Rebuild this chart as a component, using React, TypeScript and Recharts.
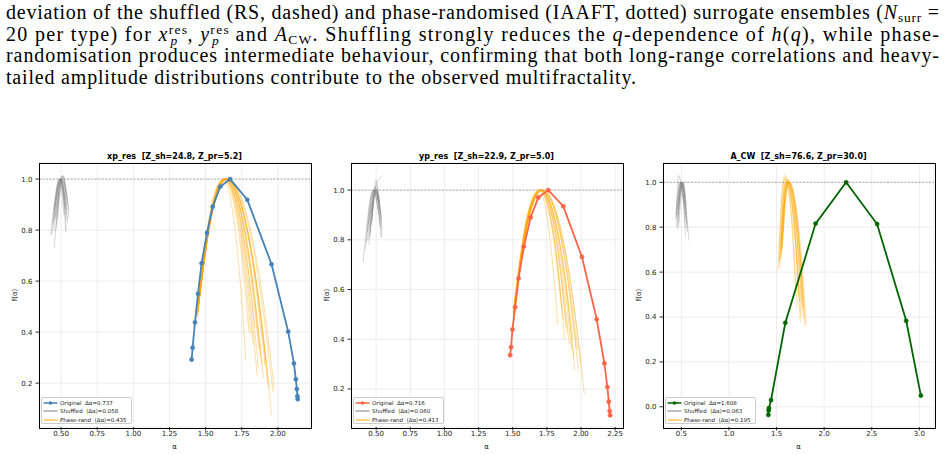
import React from "react";
import { LineChart, Line, XAxis, YAxis, CartesianGrid, ReferenceLine } from "recharts";

type Pt = [number, number];

// ---------- xp_res ----------
const xpOriginal: Pt[] = [
  [1.403, 0.292], [1.41, 0.339], [1.426, 0.438], [1.447, 0.55], [1.472, 0.67], [1.509, 0.789],
  [1.549, 0.892], [1.601, 0.97], [1.669, 1.0], [1.788, 0.919], [1.956, 0.666], [2.071, 0.402],
  [2.111, 0.277], [2.124, 0.215], [2.131, 0.177], [2.135, 0.149], [2.137, 0.137],
];
const xpShuffled: Pt[][] = [
  [[0.428, 0.78], [0.49, 1.0], [0.53, 0.86]],
  [[0.437, 0.78], [0.495, 1.0], [0.533, 0.79]],
  [[0.453, 0.73], [0.5, 1.0], [0.54, 0.84]],
  [[0.445, 0.83], [0.505, 1.01], [0.556, 0.85]],
  [[0.46, 0.85], [0.51, 1.01], [0.551, 0.88]],
  [[0.47, 0.86], [0.5, 1.0], [0.53, 0.9]],
  [[0.45, 0.8], [0.485, 1.0], [0.52, 0.86]],
  [[0.465, 0.8], [0.515, 1.01], [0.545, 0.83]],
  [[0.44, 0.82], [0.492, 1.0], [0.525, 0.89]],
  [[0.475, 0.84], [0.508, 1.0], [0.538, 0.87]],
  [[0.455, 0.88], [0.498, 1.0], [0.528, 0.92]],
  [[0.468, 0.82], [0.503, 1.0], [0.535, 0.8]],
  [[0.478, 0.9], [0.512, 1.015], [0.548, 0.9]],
  [[0.448, 0.86], [0.488, 1.0], [0.522, 0.93]],
  [[0.458, 0.84], [0.496, 1.0], [0.532, 0.88]],
  [[0.462, 0.9], [0.505, 1.0], [0.541, 0.92]],
];
const xpPhase: Pt[][] = [
  [[1.44, 0.48], [1.53, 0.87], [1.62, 1.0], [1.683, 0.886], [1.731, 0.652], [1.778, 0.29]],
  [[1.445, 0.5], [1.535, 0.875], [1.625, 1.0], [1.695, 0.904], [1.748, 0.706], [1.8, 0.4]],
  [[1.445, 0.47], [1.538, 0.868], [1.63, 1.0], [1.703, 0.902], [1.758, 0.701], [1.813, 0.39]],
  [[1.45, 0.52], [1.54, 0.88], [1.63, 1.0], [1.71, 0.896], [1.77, 0.682], [1.83, 0.35]],
  [[1.44, 0.45], [1.538, 0.862], [1.635, 1.0], [1.723, 0.877], [1.79, 0.623], [1.856, 0.23]],
  [[1.445, 0.48], [1.54, 0.87], [1.635, 1.0], [1.727, 0.882], [1.796, 0.637], [1.865, 0.26]],
  [[1.45, 0.5], [1.545, 0.875], [1.64, 1.0], [1.736, 0.888], [1.808, 0.657], [1.88, 0.3]],
  [[1.44, 0.46], [1.54, 0.865], [1.64, 1.0], [1.74, 0.883], [1.815, 0.642], [1.89, 0.27]],
  [[1.445, 0.49], [1.543, 0.873], [1.64, 1.0], [1.744, 0.875], [1.822, 0.618], [1.9, 0.22]],
  [[1.45, 0.51], [1.548, 0.878], [1.645, 1.0], [1.751, 0.883], [1.831, 0.642], [1.91, 0.27]],
  [[1.445, 0.47], [1.545, 0.868], [1.645, 1.0], [1.755, 0.885], [1.838, 0.647], [1.92, 0.28]],
  [[1.44, 0.46], [1.543, 0.865], [1.645, 1.0], [1.759, 0.872], [1.845, 0.608], [1.93, 0.2]],
  [[1.445, 0.48], [1.543, 0.87], [1.64, 1.0], [1.76, 0.869], [1.85, 0.598], [1.94, 0.18]],
  [[1.45, 0.5], [1.548, 0.875], [1.645, 1.0], [1.769, 0.852], [1.863, 0.547], [1.956, 0.075]],
  [[1.445, 0.49], [1.548, 0.873], [1.65, 1.0], [1.776, 0.866], [1.871, 0.591], [1.966, 0.165]],
  [[1.445, 0.48], [1.548, 0.87], [1.65, 1.0], [1.78, 0.869], [1.878, 0.598], [1.975, 0.18]],
  [[1.45, 0.5], [1.543, 0.875], [1.635, 1.0], [1.729, 0.893], [1.8, 0.672], [1.87, 0.33]],
  [[1.445, 0.49], [1.538, 0.873], [1.63, 1.0], [1.714, 0.907], [1.777, 0.716], [1.84, 0.42]],
];
const xpTicksX = [0.5, 0.75, 1.0, 1.25, 1.5, 1.75, 2.0];
const xpTicksY = [0.2, 0.4, 0.6, 0.8, 1.0];

// ---------- yp_res ----------
const ypOriginal: Pt[] = [
  [1.481, 0.336], [1.488, 0.368], [1.498, 0.439], [1.518, 0.529], [1.543, 0.645], [1.582, 0.773],
  [1.631, 0.89], [1.687, 0.97], [1.76, 1.0], [1.87, 0.935], [2.007, 0.731], [2.115, 0.48],
  [2.171, 0.303], [2.193, 0.208], [2.203, 0.149], [2.21, 0.111], [2.213, 0.094],
];
const ypShuffled: Pt[][] = [
  [[0.405, 0.71], [0.48, 1.0], [0.52, 0.9]],
  [[0.447, 0.78], [0.495, 1.0], [0.537, 0.81]],
  [[0.455, 0.82], [0.5, 1.01], [0.53, 0.85]],
  [[0.46, 0.9], [0.49, 1.0], [0.546, 1.06]],
  [[0.47, 0.88], [0.492, 1.01], [0.54, 0.88]],
  [[0.43, 0.79], [0.485, 1.0], [0.525, 0.86]],
  [[0.44, 0.8], [0.49, 1.0], [0.535, 0.9]],
  [[0.465, 0.86], [0.5, 1.0], [0.545, 0.84]],
  [[0.45, 0.84], [0.495, 1.0], [0.528, 0.93]],
  [[0.475, 0.92], [0.498, 1.04], [0.525, 0.95]],
  [[0.42, 0.76], [0.478, 1.0], [0.515, 0.92]],
  [[0.458, 0.83], [0.505, 1.0], [0.538, 0.87]],
  [[0.445, 0.86], [0.488, 1.0], [0.522, 0.95]],
  [[0.468, 0.87], [0.502, 1.02], [0.532, 0.9]],
  [[0.452, 0.81], [0.497, 1.0], [0.543, 0.81]],
  [[0.435, 0.83], [0.482, 1.0], [0.518, 0.95]],
];
const ypPhase: Pt[][] = [
  [[1.505, 0.5], [1.598, 0.875], [1.69, 1.0], [1.746, 0.914], [1.787, 0.735], [1.829, 0.46]],
  [[1.505, 0.52], [1.6, 0.88], [1.695, 1.0], [1.76, 0.923], [1.809, 0.765], [1.858, 0.52]],
  [[1.51, 0.53], [1.605, 0.883], [1.7, 1.0], [1.772, 0.904], [1.826, 0.706], [1.88, 0.4]],
  [[1.505, 0.5], [1.603, 0.875], [1.7, 1.0], [1.78, 0.907], [1.84, 0.716], [1.9, 0.42]],
  [[1.51, 0.52], [1.608, 0.88], [1.705, 1.0], [1.789, 0.901], [1.851, 0.696], [1.914, 0.38]],
  [[1.505, 0.49], [1.605, 0.873], [1.705, 1.0], [1.795, 0.898], [1.863, 0.686], [1.93, 0.36]],
  [[1.51, 0.51], [1.61, 0.878], [1.71, 1.0], [1.804, 0.893], [1.875, 0.672], [1.945, 0.33]],
  [[1.505, 0.5], [1.608, 0.875], [1.71, 1.0], [1.808, 0.885], [1.882, 0.647], [1.955, 0.28]],
  [[1.51, 0.52], [1.613, 0.88], [1.715, 1.0], [1.815, 0.898], [1.89, 0.686], [1.965, 0.36]],
  [[1.505, 0.5], [1.61, 0.875], [1.715, 1.0], [1.819, 0.897], [1.898, 0.684], [1.976, 0.355]],
  [[1.51, 0.51], [1.615, 0.878], [1.72, 1.0], [1.824, 0.885], [1.902, 0.647], [1.98, 0.28]],
  [[1.505, 0.49], [1.613, 0.873], [1.72, 1.0], [1.832, 0.888], [1.916, 0.657], [2.0, 0.3]],
  [[1.51, 0.5], [1.613, 0.875], [1.715, 1.0], [1.839, 0.869], [1.931, 0.598], [2.024, 0.18]],
  [[1.505, 0.52], [1.608, 0.88], [1.71, 1.0], [1.782, 0.912], [1.836, 0.73], [1.89, 0.45]],
  [[1.51, 0.53], [1.605, 0.883], [1.7, 1.0], [1.768, 0.917], [1.819, 0.745], [1.87, 0.48]],
  [[1.505, 0.5], [1.605, 0.875], [1.705, 1.0], [1.799, 0.904], [1.87, 0.706], [1.94, 0.4]],
];
const ypTicksX = [0.5, 0.75, 1.0, 1.25, 1.5, 1.75, 2.0, 2.25];
const ypTicksY = [0.2, 0.4, 0.6, 0.8, 1.0];

// ---------- A_CW ----------
const acwOriginal: Pt[] = [
  [1.414, -0.036], [1.417, -0.016], [1.42, -0.006], [1.442, 0.03], [1.592, 0.374],
  [1.91, 0.816], [2.231, 1.0], [2.556, 0.814], [2.862, 0.383], [3.016, 0.05],
];
const acwShuffled: Pt[][] = [
  [[0.44, 0.83], [0.49, 1.0], [0.54, 0.8]],
  [[0.457, 0.79], [0.5, 1.0], [0.58, 0.74]],
  [[0.445, 0.84], [0.47, 1.03], [0.52, 0.92]],
  [[0.46, 0.86], [0.505, 1.0], [0.544, 0.76]],
  [[0.47, 0.88], [0.51, 1.0], [0.56, 0.8]],
  [[0.45, 0.8], [0.495, 1.0], [0.55, 0.82]],
  [[0.465, 0.84], [0.515, 1.0], [0.555, 0.86]],
  [[0.475, 0.9], [0.498, 1.0], [0.535, 0.88]],
  [[0.452, 0.85], [0.488, 1.0], [0.528, 0.9]],
  [[0.468, 0.82], [0.508, 1.0], [0.548, 0.84]],
  [[0.48, 0.92], [0.512, 1.0], [0.54, 0.93]],
  [[0.458, 0.88], [0.502, 1.0], [0.565, 0.78]],
  [[0.442, 0.86], [0.485, 1.0], [0.53, 0.95]],
  [[0.472, 0.8], [0.518, 1.0], [0.552, 0.9]],
];
const acwPhase: Pt[][] = [
  [[1.516, 0.61], [1.553, 0.918], [1.59, 1.02], [1.64, 0.927], [1.678, 0.736], [1.715, 0.44]],
  [[1.53, 0.64], [1.565, 0.91], [1.6, 1.0], [1.66, 0.901], [1.704, 0.696], [1.749, 0.38]],
  [[1.547, 0.68], [1.579, 0.928], [1.61, 1.01], [1.678, 0.914], [1.729, 0.716], [1.78, 0.41]],
  [[1.54, 0.66], [1.58, 0.915], [1.62, 1.0], [1.692, 0.898], [1.746, 0.686], [1.8, 0.36]],
  [[1.555, 0.72], [1.59, 0.93], [1.625, 1.0], [1.679, 0.912], [1.72, 0.73], [1.76, 0.45]],
  [[1.56, 0.7], [1.588, 0.925], [1.615, 1.0], [1.661, 0.92], [1.696, 0.755], [1.73, 0.5]],
  [[1.55, 0.75], [1.59, 0.938], [1.63, 1.0], [1.694, 0.902], [1.742, 0.701], [1.79, 0.39]],
  [[1.535, 0.62], [1.57, 0.913], [1.605, 1.01], [1.671, 0.917], [1.721, 0.726], [1.77, 0.43]],
  [[1.565, 0.74], [1.6, 0.935], [1.635, 1.0], [1.705, 0.899], [1.758, 0.691], [1.81, 0.37]],
  [[1.545, 0.69], [1.57, 0.938], [1.595, 1.02], [1.653, 0.932], [1.697, 0.751], [1.74, 0.47]],
  [[1.57, 0.78], [1.599, 0.945], [1.628, 1.0], [1.687, 0.917], [1.731, 0.745], [1.775, 0.48]],
  [[1.525, 0.65], [1.555, 0.935], [1.585, 1.03], [1.631, 0.948], [1.666, 0.78], [1.7, 0.52]],
  [[1.55, 0.66], [1.581, 0.915], [1.612, 1.0], [1.669, 0.904], [1.712, 0.706], [1.755, 0.4]],
  [[1.558, 0.7], [1.59, 0.933], [1.622, 1.01], [1.689, 0.919], [1.74, 0.731], [1.79, 0.44]],
];
const acwTicksX = [0.5, 1.0, 1.5, 2.0, 2.5, 3.0];
const acwTicksY = [0.0, 0.2, 0.4, 0.6, 0.8, 1.0];

const panels = [
  {
    title: "xp_res  [Z_sh=24.8, Z_pr=5.2]",
    color: "#4682b4",
    original: xpOriginal,
    shuffled: xpShuffled,
    phase: xpPhase,
    xTicks: xpTicksX,
    yTicks: xpTicksY,
    xDomain: [0.347, 2.222],
    yDomain: [0.028, 1.063],
    xDigits: 2,
    plotLeft: 39,
    legend: ["0.737", "0.058", "0.435"],
  },
  {
    title: "yp_res  [Z_sh=22.9, Z_pr=5.0]",
    color: "#ff6347",
    original: ypOriginal,
    shuffled: ypShuffled,
    phase: ypPhase,
    xTicks: ypTicksX,
    yTicks: ypTicksY,
    xDomain: [0.316, 2.3],
    yDomain: [0.047, 1.109],
    xDigits: 2,
    plotLeft: 351,
    legend: ["0.716", "0.060", "0.413"],
  },
  {
    title: "A_CW  [Z_sh=76.6, Z_pr=30.0]",
    color: "#006400",
    original: acwOriginal,
    shuffled: acwShuffled,
    phase: acwPhase,
    xTicks: acwTicksX,
    yTicks: acwTicksY,
    xDomain: [0.307, 3.154],
    yDomain: [-0.09, 1.086],
    xDigits: 1,
    plotLeft: 663,
    legend: ["1.608", "0.063", "0.195"],
  },
];

const rows = (pts: Pt[]) => pts.map(([a, f]) => ({ a, f }));

const FONT = "'DejaVu Sans', sans-serif";
const PLOT_TOP = 163;
const PW = 271;
const PH = 264;
const tickStyle = { fontSize: 7, fill: "#1a1a1a", fontFamily: FONT };

function Panel({ cfg }: { cfg: (typeof panels)[number] }) {
  const left = cfg.plotLeft - 40;
  const top = PLOT_TOP - 20;
  const legendRows = [
    { color: cfg.color, dot: true, label: `Original  \u0394\u03b1=${cfg.legend[0]}` },
    { color: "#808080", dot: false, label: `Shuffled  \u27e8\u0394\u03b1\u27e9=${cfg.legend[1]}` },
    { color: "#ffa500", dot: false, label: `Phase-rand  \u27e8\u0394\u03b1\u27e9=${cfg.legend[2]}` },
  ];
  return (
    <>
      <div style={{ position: "absolute", left, top }}>
        <LineChart width={PW + 50} height={PH + 50} margin={{ top: 20, right: 10, bottom: 0, left: 0 }}>
          <CartesianGrid stroke="#e8e8e8" strokeWidth={0.8} />
          <XAxis
            type="number"
            dataKey="a"
            domain={cfg.xDomain}
            ticks={cfg.xTicks}
            interval={0}
            allowDataOverflow
            height={30}
            axisLine={false}
            tickSize={3.5}
            tickMargin={1}
            tickLine={{ stroke: "#000", strokeWidth: 0.8 }}
            tick={tickStyle}
            tickFormatter={(v: number) => v.toFixed(cfg.xDigits)}
          />
          <YAxis
            type="number"
            domain={cfg.yDomain}
            ticks={cfg.yTicks}
            interval={0}
            allowDataOverflow
            width={40}
            axisLine={false}
            tickSize={3.5}
            tickMargin={3}
            tickLine={{ stroke: "#000", strokeWidth: 0.8 }}
            tick={tickStyle}
            tickFormatter={(v: number) => v.toFixed(1)}
          />
          <ReferenceLine y={1} stroke="#9a9a9a" strokeDasharray="2 1.5" strokeWidth={0.8} />
          {cfg.shuffled.map((c, i) => (
            <Line
              key={"s" + i}
              data={rows(c)}
              dataKey="f"
              type="monotone"
              stroke="#808080"
              strokeOpacity={0.4}
              strokeWidth={0.8}
              dot={false}
              activeDot={false}
              isAnimationActive={false}
            />
          ))}
          {cfg.phase.map((c, i) => (
            <Line
              key={"p" + i}
              data={rows(c)}
              dataKey="f"
              type="monotone"
              stroke="#ffa500"
              strokeOpacity={0.4}
              strokeWidth={0.9}
              dot={false}
              activeDot={false}
              isAnimationActive={false}
            />
          ))}
          <Line
            data={rows(cfg.original)}
            dataKey="f"
            type="linear"
            stroke={cfg.color}
            strokeWidth={1.8}
            dot={{ r: 2.1, fill: cfg.color, stroke: cfg.color, strokeWidth: 0.5 }}
            activeDot={false}
            isAnimationActive={false}
          />
        </LineChart>
      </div>
      {/* frame */}
      <div
        style={{
          position: "absolute",
          left: cfg.plotLeft - 0.5,
          top: PLOT_TOP - 0.5,
          width: PW,
          height: PH,
          border: "1px solid #000",
          pointerEvents: "none",
        }}
      />
      {/* title */}
      <div
        style={{
          position: "absolute",
          left: cfg.plotLeft,
          width: PW,
          top: PLOT_TOP - 11.5,
          lineHeight: "10px",
          textAlign: "center",
          fontFamily: FONT,
          fontWeight: "bold",
          fontSize: 8,
          whiteSpace: "pre",
          color: "#000",
        }}
      >
        {cfg.title}
      </div>
      {/* y label */}
      <div
        style={{
          position: "absolute",
          left: cfg.plotLeft - 24 - 20,
          top: PLOT_TOP + PH / 2 - 5,
          width: 40,
          height: 10,
          lineHeight: "10px",
          textAlign: "center",
          transform: "rotate(-90deg)",
          fontFamily: FONT,
          fontSize: 7,
          color: "#1a1a1a",
        }}
      >
        f(α)
      </div>
      {/* x label */}
      <div
        style={{
          position: "absolute",
          left: cfg.plotLeft,
          width: PW,
          top: PLOT_TOP + PH + 15,
          lineHeight: "10px",
          textAlign: "center",
          fontFamily: FONT,
          fontSize: 7,
          color: "#1a1a1a",
        }}
      >
        α
      </div>
      {/* legend */}
      <div
        style={{
          position: "absolute",
          left: cfg.plotLeft + 2,
          top: PLOT_TOP + PH - 30,
          width: 91,
          height: 27,
          background: "rgba(255,255,255,0.85)",
          border: "0.8px solid #cccccc",
          borderRadius: 2,
          boxSizing: "border-box",
          fontFamily: FONT,
          fontSize: 5.5,
          color: "#1a1a1a",
        }}
      >
        {legendRows.map((r, i) => (
          <div
            key={i}
            style={{
              position: "absolute",
              left: 0,
              top: 0.5 + i * 8.6,
              height: 8,
              display: "flex",
              alignItems: "center",
              whiteSpace: "pre",
            }}
          >
            <svg width={18} height={8} style={{ display: "block" }}>
              <line x1={1.5} x2={15.5} y1={4} y2={4} stroke={r.color} strokeWidth={r.dot ? 1.5 : 1} />
              {r.dot && <circle cx={8.5} cy={4} r={1.8} fill={r.color} />}
            </svg>
            <span style={{ lineHeight: "8px" }}>{r.label}</span>
          </div>
        ))}
      </div>
    </>
  );
}

const SERIF = "'Liberation Serif', serif";

function Caption() {
  const small = 13.5;
  return (
    <svg
      width={944}
      height={100}
      style={{ position: "absolute", left: 0, top: 0 }}
      fontFamily={SERIF}
      fontSize={20}
      fill="#000"
    >
      <text x={6} y={19} textLength={933} lengthAdjust="spacing">
        deviation of the shuffled (RS, dashed) and phase-randomised (IAAFT, dotted) surrogate ensembles (
        <tspan fontStyle="italic">N</tspan>
        <tspan fontSize={small} dy={3}>surr</tspan>
        <tspan dy={-3}> =</tspan>
      </text>
      <text x={6} y={40.5} textLength={933} lengthAdjust="spacing">
        20 per type) for <tspan fontStyle="italic">x</tspan>
        <tspan fontSize={small} dy={-7}>res</tspan>
        <tspan fontSize={small} fontStyle="italic" dx={-18} dy={11}>p</tspan>
        <tspan dx={9} dy={-4}>, </tspan>
        <tspan fontStyle="italic">y</tspan>
        <tspan fontSize={small} dy={-7}>res</tspan>
        <tspan fontSize={small} fontStyle="italic" dx={-18} dy={11}>p</tspan>
        <tspan dx={9} dy={-4}> and </tspan>
        <tspan fontStyle="italic">A</tspan>
        <tspan fontSize={small} dy={3}>CW</tspan>
        <tspan dy={-3}>. Shuffling strongly reduces the </tspan>
        <tspan fontStyle="italic">q</tspan>-dependence of <tspan fontStyle="italic">h</tspan>(
        <tspan fontStyle="italic">q</tspan>), while phase-
      </text>
      <text x={6} y={62} textLength={933} lengthAdjust="spacing">
        randomisation produces intermediate behaviour, confirming that both long-range correlations and heavy-
      </text>
      <text x={6} y={83.5} textLength={630} lengthAdjust="spacing">
        tailed amplitude distributions contribute to the observed multifractality.
      </text>
    </svg>
  );
}

export default function App() {
  return (
    <div
      style={{
        position: "absolute",
        left: 0,
        top: 0,
        width: 944,
        height: 455,
        background: "#fff",
        overflow: "hidden",
      }}
    >
      <Caption />
      {panels.map((p, i) => (
        <Panel key={i} cfg={p} />
      ))}
    </div>
  );
}
